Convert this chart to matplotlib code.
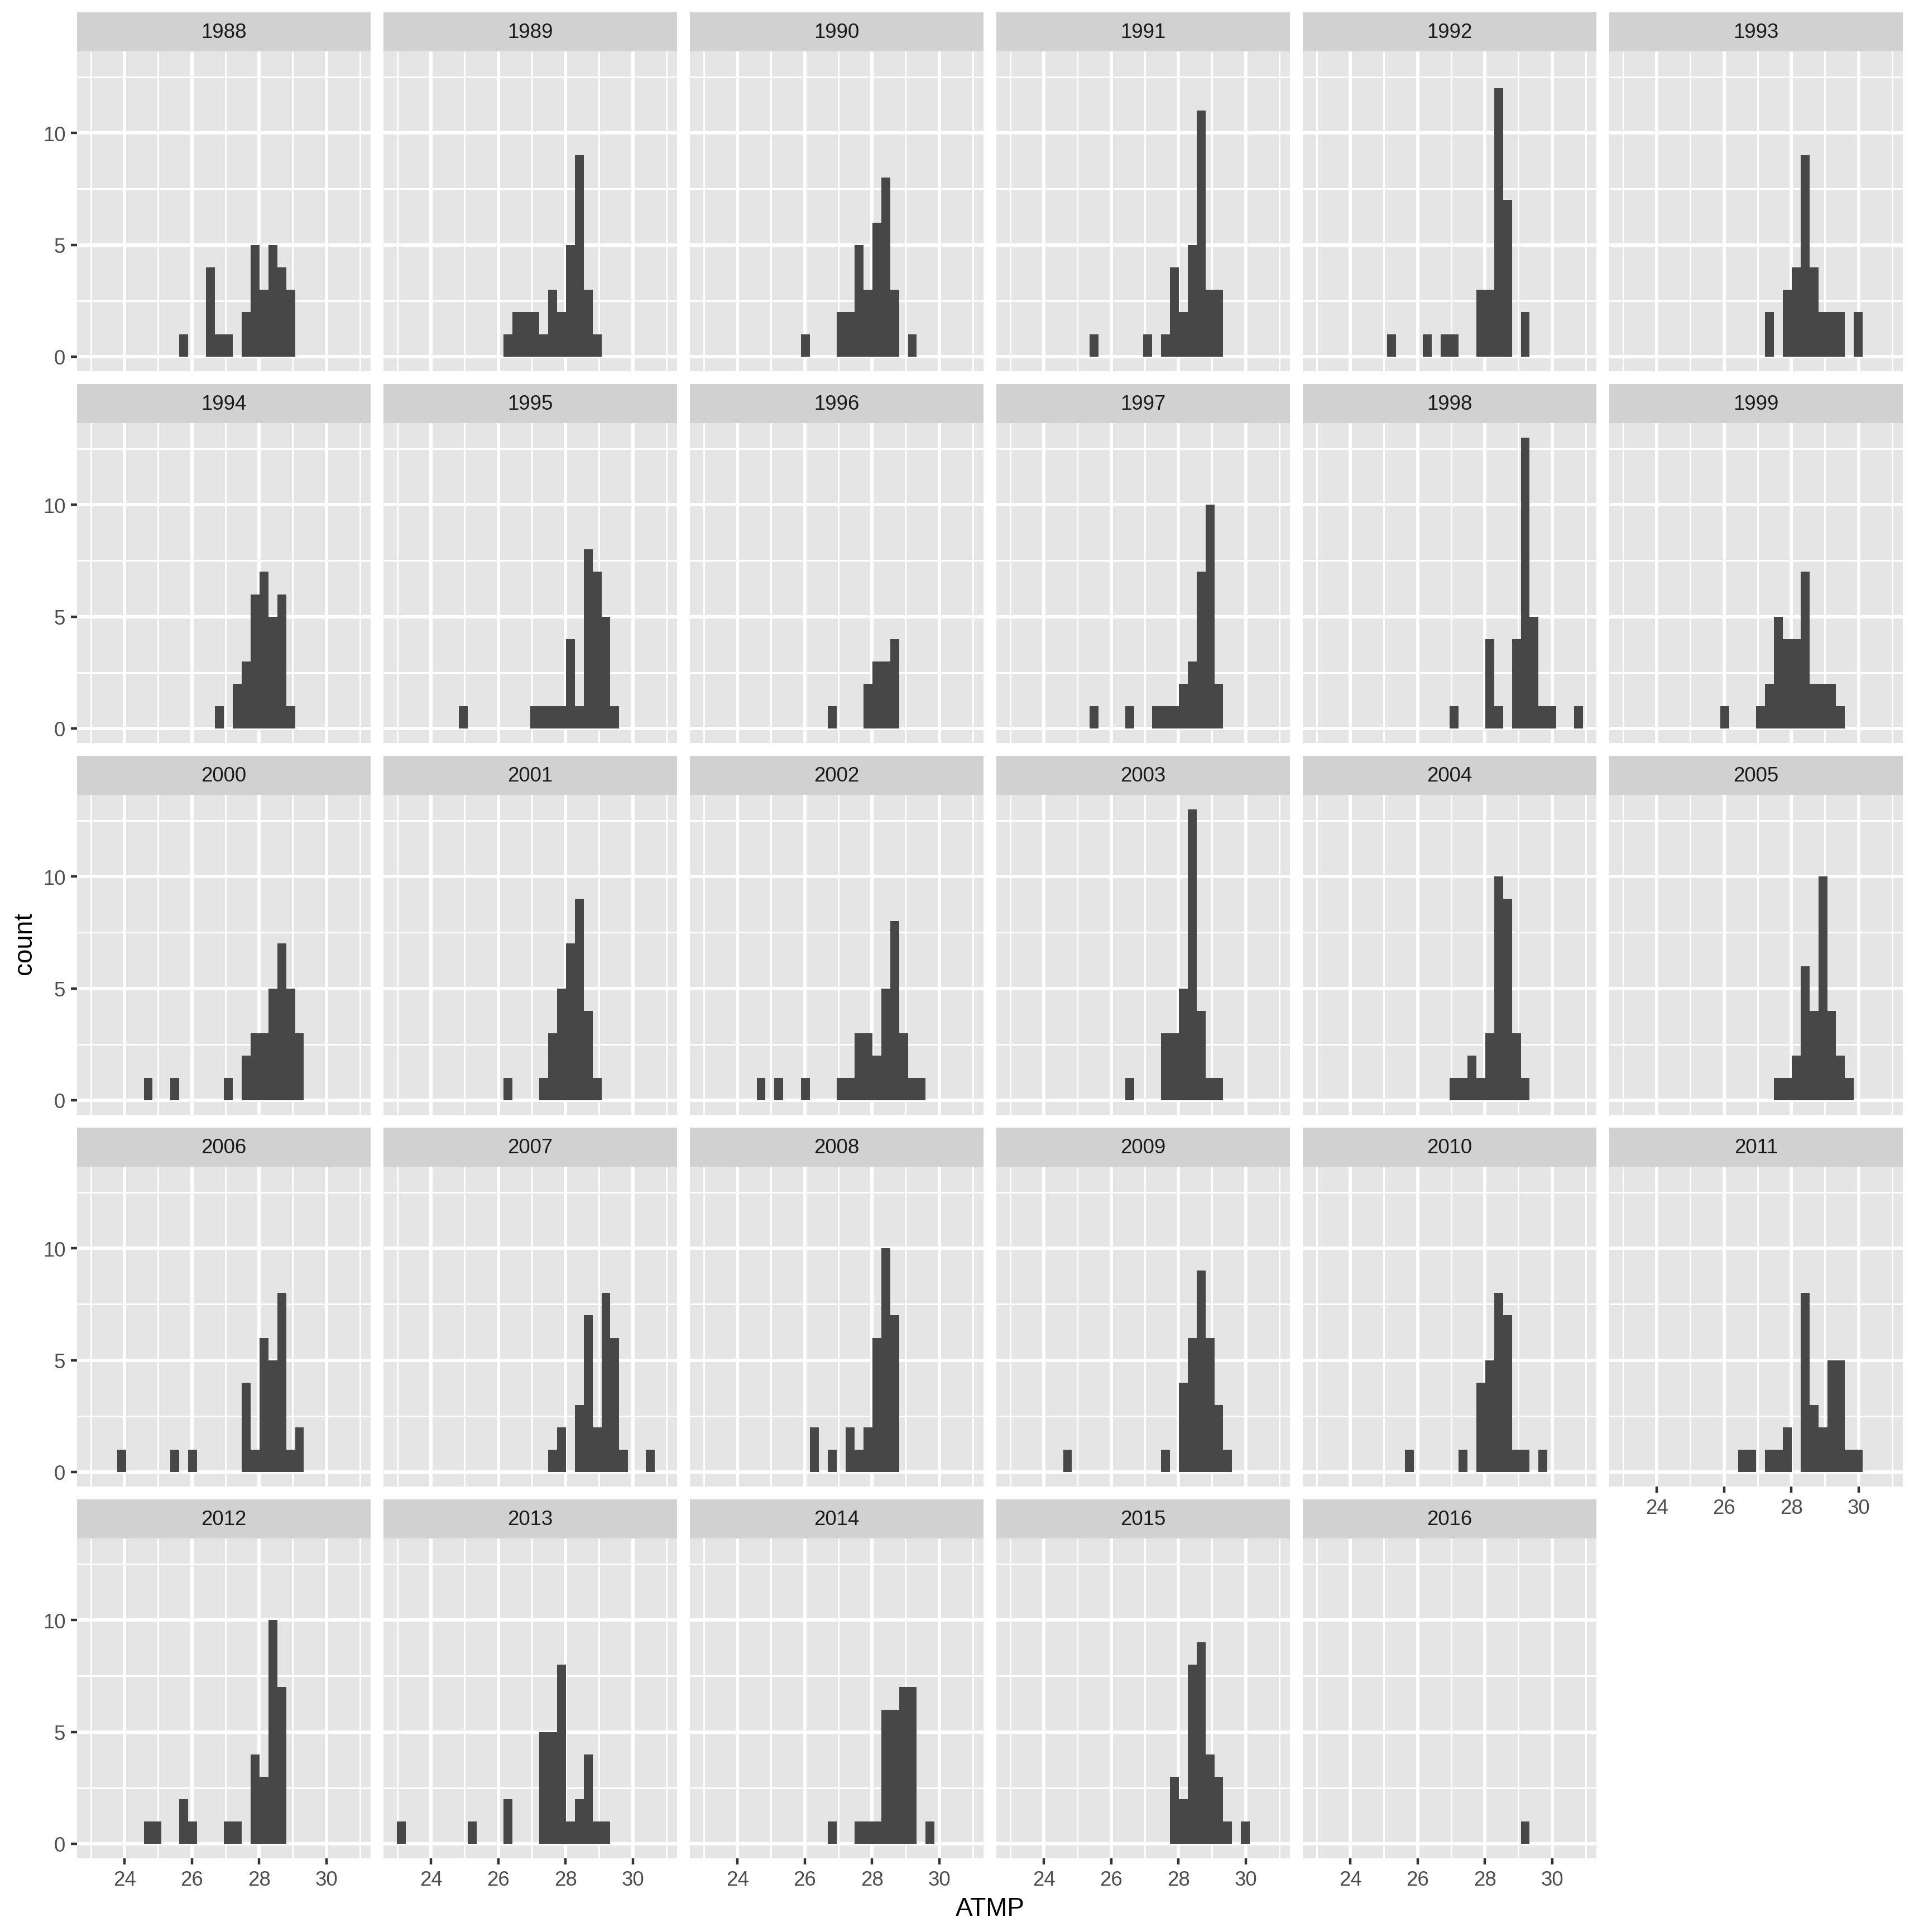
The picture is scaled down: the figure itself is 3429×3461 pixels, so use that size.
import numpy as np
import matplotlib
matplotlib.use('Agg')
import matplotlib.pyplot as plt

plt.rcParams['font.family'] = ['Liberation Sans', 'DejaVu Sans']

# histogram of ATMP per year, 30 bins shared by all panels
years = [1988, 1989, 1990, 1991, 1992, 1993,
         1994, 1995, 1996, 1997, 1998, 1999,
         2000, 2001, 2002, 2003, 2004, 2005,
         2006, 2007, 2008, 2009, 2010, 2011,
         2012, 2013, 2014, 2015, 2016]
bin_lo = 22.985
bin_width = 0.2645
counts = [
    [0,0,0,0,0,0,0,0,0,0, 1,0,0,4,1,1,0,2,5,3, 5,4,3,0,0,0,0,0,0,0],   # 1988
    [0,0,0,0,0,0,0,0,0,0, 0,0,1,2,2,2,1,3,2,5, 9,3,1,0,0,0,0,0,0,0],   # 1989
    [0,0,0,0,0,0,0,0,0,0, 0,1,0,0,0,2,2,5,3,6, 8,3,0,1,0,0,0,0,0,0],   # 1990
    [0,0,0,0,0,0,0,0,0,1, 0,0,0,0,0,1,0,1,4,2, 5,11,3,3,0,0,0,0,0,0],  # 1991
    [0,0,0,0,0,0,0,0,1,0, 0,0,1,0,1,1,0,0,3,3, 12,7,0,2,0,0,0,0,0,0],  # 1992
    [0,0,0,0,0,0,0,0,0,0, 0,0,0,0,0,0,2,0,3,4, 9,4,2,2,2,0,2,0,0,0],   # 1993
    [0,0,0,0,0,0,0,0,0,0, 0,0,0,0,1,0,2,3,6,7, 5,6,1,0,0,0,0,0,0,0],   # 1994
    [0,0,0,0,0,0,0,1,0,0, 0,0,0,0,0,1,1,1,1,4, 1,8,7,5,1,0,0,0,0,0],   # 1995
    [0,0,0,0,0,0,0,0,0,0, 0,0,0,0,1,0,0,0,2,3, 3,4,0,0,0,0,0,0,0,0],   # 1996
    [0,0,0,0,0,0,0,0,0,1, 0,0,0,1,0,0,1,1,1,2, 3,7,10,2,0,0,0,0,0,0],  # 1997
    [0,0,0,0,0,0,0,0,0,0, 0,0,0,0,0,1,0,0,0,4, 1,0,4,13,5,1,1,0,0,1],  # 1998
    [0,0,0,0,0,0,0,0,0,0, 0,1,0,0,0,1,2,5,4,4, 7,2,2,2,1,0,0,0,0,0],   # 1999
    [0,0,0,0,0,0,1,0,0,1, 0,0,0,0,0,1,0,2,3,3, 5,7,5,3,0,0,0,0,0,0],   # 2000
    [0,0,0,0,0,0,0,0,0,0, 0,0,1,0,0,0,1,3,5,7, 9,4,1,0,0,0,0,0,0,0],   # 2001
    [0,0,0,0,0,0,1,0,1,0, 0,1,0,0,0,1,1,3,3,2, 5,8,3,1,1,0,0,0,0,0],   # 2002
    [0,0,0,0,0,0,0,0,0,0, 0,0,0,1,0,0,0,3,3,5, 13,4,1,1,0,0,0,0,0,0],  # 2003
    [0,0,0,0,0,0,0,0,0,0, 0,0,0,0,0,1,1,2,1,3, 10,9,3,1,0,0,0,0,0,0],  # 2004
    [0,0,0,0,0,0,0,0,0,0, 0,0,0,0,0,0,0,1,1,2, 6,4,10,4,2,1,0,0,0,0],  # 2005
    [0,0,0,1,0,0,0,0,0,1, 0,1,0,0,0,0,0,4,1,6, 5,8,1,2,0,0,0,0,0,0],   # 2006
    [0,0,0,0,0,0,0,0,0,0, 0,0,0,0,0,0,0,1,2,0, 3,7,2,8,6,1,0,0,1,0],   # 2007
    [0,0,0,0,0,0,0,0,0,0, 0,0,2,0,1,0,2,1,2,6, 10,7,0,0,0,0,0,0,0,0],  # 2008
    [0,0,0,0,0,0,1,0,0,0, 0,0,0,0,0,0,0,1,0,4, 6,9,6,3,1,0,0,0,0,0],   # 2009
    [0,0,0,0,0,0,0,0,0,0, 1,0,0,0,0,0,1,0,4,5, 8,7,1,1,0,1,0,0,0,0],   # 2010
    [0,0,0,0,0,0,0,0,0,0, 0,0,0,1,1,0,1,1,2,0, 8,3,2,5,5,1,1,0,0,0],   # 2011
    [0,0,0,0,0,0,1,1,0,0, 2,1,0,0,0,1,1,0,4,3, 10,7,0,0,0,0,0,0,0,0],  # 2012
    [1,0,0,0,0,0,0,0,1,0, 0,0,2,0,0,0,5,5,8,1, 2,4,1,1,0,0,0,0,0,0],   # 2013
    [0,0,0,0,0,0,0,0,0,0, 0,0,0,0,1,0,0,1,1,1, 6,6,7,7,0,1,0,0,0,0],   # 2014
    [0,0,0,0,0,0,0,0,0,0, 0,0,0,0,0,0,0,0,3,2, 8,9,4,3,1,0,1,0,0,0],   # 2015
    [0,0,0,0,0,0,0,0,0,0, 0,0,0,0,0,0,0,0,0,0, 0,0,0,1,0,0,0,0,0,0],   # 2016
]
x_major = [24, 26, 28, 30]
x_minor = [23, 25, 27, 29, 31]
y_major = [0, 5, 10]
y_minor = [2.5, 7.5, 12.5]

DPI = 300
W_PX, H_PX = 3429, 3462
fig = plt.figure(figsize=(W_PX / DPI, H_PX / DPI), dpi=DPI)


def box(left, top, w, h):
    # pixel box (from top-left) -> figure axes
    return fig.add_axes([left / W_PX, 1 - (top + h) / H_PX, w / W_PX, h / H_PX])


ncol = 6
nyears = len(years)
panel_w, panel_h, strip_h = 526, 573, 70
col_step, row_step = 549, 666
left0, top0 = 138, 23

centers = bin_lo + (np.arange(30) + 0.5) * bin_width
span = 30 * bin_width
xlim = (bin_lo - 0.05 * span, bin_lo + 1.05 * span)
ymax = max(max(c) for c in counts)
ylim = (-0.05 * ymax, 1.05 * ymax)

for i, yr in enumerate(years):
    r, c = divmod(i, ncol)
    left = left0 + c * col_step
    stop = top0 + r * row_step

    st = box(left, stop, panel_w, strip_h)
    st.set_facecolor('#D1D1D1')
    st.set_xticks([])
    st.set_yticks([])
    for s in st.spines.values():
        s.set_visible(False)
    st.text(0.5, 0.5, str(yr), transform=st.transAxes, ha='center', va='center',
            fontsize=8.8, color='#1A1A1A')

    ax = box(left, stop + strip_h, panel_w, panel_h)
    ax.set_facecolor('#E5E5E5')
    ax.bar(centers, counts[i], width=bin_width, color='#474747', linewidth=0)
    ax.set_xlim(xlim)
    ax.set_ylim(ylim)
    ax.set_xticks(x_major)
    ax.set_xticks(x_minor, minor=True)
    ax.set_yticks(y_major)
    ax.set_yticks(y_minor, minor=True)
    ax.set_axisbelow(True)
    ax.grid(which='major', color='white', linewidth=1.42)
    ax.grid(which='minor', color='white', linewidth=0.71)
    for s in ax.spines.values():
        s.set_visible(False)

    ax.tick_params(which='minor', length=0)
    ax.tick_params(which='major', length=2.75, width=1.07, color='#333333',
                   labelsize=8.8, labelcolor='#4D4D4D', pad=2.2)

    show_x = (i + ncol >= nyears)
    show_y = (c == 0)
    if not show_x:
        ax.tick_params(axis='x', which='major', length=0, labelbottom=False)
    if not show_y:
        ax.tick_params(axis='y', which='major', length=0, labelleft=False)

fig.text(1773.5 / W_PX, 1 - 3420 / H_PX, 'ATMP', ha='center', va='center',
         fontsize=11, color='black')
fig.text(44 / W_PX, 1 - 1690 / H_PX, 'count', ha='center', va='center',
         rotation=90, fontsize=11, color='black')

fig.savefig('out.png', dpi=DPI)
